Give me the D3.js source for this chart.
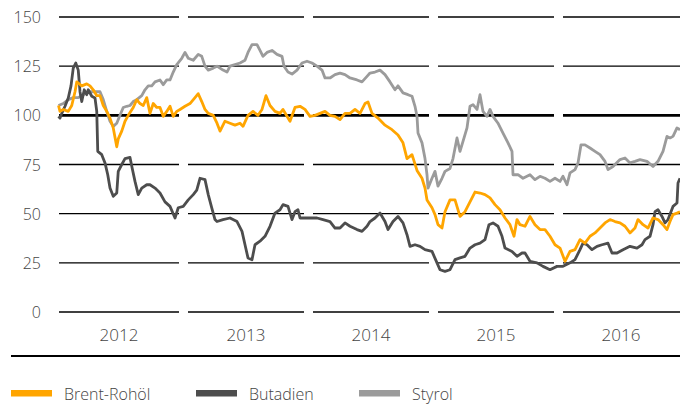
<!DOCTYPE html>
<html>
<head>
<meta charset="utf-8">
<script src="https://cdn.jsdelivr.net/npm/d3@7/dist/d3.min.js"></script>
<style>
  html, body { margin: 0; padding: 0; background: #fff; }
  svg { display: block; font-family: "Open Sans", "Noto Sans", sans-serif; }
</style>
</head>
<body>
<svg id="chart" width="680" height="405"></svg>
<script>
// ---------- data ----------
const years = [2012, 2013, 2014, 2015, 2016];
const yearLabels = ["2012", "2013", "2014", "2015", "2016"];
const yTicks = [0, 25, 50, 75, 100, 125, 150];
const seriesNames = ["Brent-Rohöl", "Butadien", "Styrol"];
const seriesColors = ["#FFA500", "#4d4d4d", "#9b9b9b"];

const brentDates = [2012.000,2012.012,2012.038,2012.078,2012.106,2012.132,2012.146,2012.186,2012.226,2012.252,2012.278,2012.306,2012.332,2012.358,2012.386,2012.412,2012.438,2012.466,2012.478,2012.506,2012.532,2012.558,2012.598,2012.626,2012.652,2012.678,2012.706,2012.732,2012.758,2012.786,2012.812,2012.838,2012.866,2012.892,2012.918,2012.946,2012.972,2013.012,2013.052,2013.092,2013.118,2013.146,2013.172,2013.198,2013.238,2013.268,2013.292,2013.332,2013.372,2013.412,2013.452,2013.476,2013.516,2013.556,2013.596,2013.628,2013.660,2013.692,2013.732,2013.772,2013.796,2013.852,2013.892,2013.932,2013.972,2014.012,2014.052,2014.092,2014.132,2014.172,2014.212,2014.252,2014.292,2014.332,2014.372,2014.412,2014.452,2014.476,2014.508,2014.556,2014.612,2014.668,2014.716,2014.756,2014.788,2014.828,2014.868,2014.908,2014.932,2014.948,2014.988,2015.012,2015.036,2015.068,2015.092,2015.132,2015.172,2015.212,2015.252,2015.292,2015.332,2015.372,2015.412,2015.452,2015.492,2015.532,2015.572,2015.612,2015.644,2015.668,2015.692,2015.732,2015.772,2015.812,2015.852,2015.892,2015.932,2015.972,2016.012,2016.052,2016.092,2016.132,2016.172,2016.212,2016.252,2016.292,2016.332,2016.372,2016.412,2016.452,2016.492,2016.532,2016.572,2016.612,2016.636,2016.676,2016.716,2016.756,2016.796,2016.836,2016.868,2016.892,2016.916,2016.948,2016.972];
const brentValues = [105,102,103,102,105,112,117,115,116,115,113,110,110,105,102,98.6,93.6,84,88,92,97,100,104,108,106,105,109,101,106,104,104,99.5,102,104.6,99.5,102,103,104.6,106,109,111,107,103,101,100,96,92,97,96,95,96,94.4,100,102,100,103,110,105,102,101,103,97,104,104.6,103,99.5,100,101,102,100,99.5,97.8,101,101,103,101,106,106.8,101,98.6,95,92.7,90,86,78,80,72,68,63,57,53,49.5,44.4,42.7,51,57,57,48.6,51,56,61,60.5,59.7,58,54.6,52,47.8,44.4,38.5,47,44.4,43.6,48.6,44.4,41.9,41.9,38.5,34.2,32.5,25.8,30.8,31.7,36.8,35,38.5,40.2,42.7,45.3,47,46,45.3,43.6,40.2,42.7,47,44.4,42.7,47.8,47,44.4,41.9,46,49.5,50.3,51];

const butadienDates = [2012.000,2012.012,2012.026,2012.052,2012.078,2012.100,2012.118,2012.138,2012.158,2012.172,2012.186,2012.206,2012.226,2012.238,2012.266,2012.292,2012.306,2012.314,2012.346,2012.372,2012.394,2012.412,2012.438,2012.466,2012.478,2012.506,2012.532,2012.572,2012.590,2012.612,2012.638,2012.666,2012.706,2012.732,2012.772,2012.812,2012.852,2012.892,2012.932,2012.958,2012.998,2013.038,2013.078,2013.106,2013.132,2013.172,2013.198,2013.226,2013.252,2013.268,2013.316,2013.372,2013.428,2013.468,2013.492,2013.516,2013.548,2013.572,2013.612,2013.652,2013.692,2013.732,2013.772,2013.796,2013.836,2013.868,2013.892,2013.916,2013.932,2014.012,2014.068,2014.116,2014.172,2014.212,2014.252,2014.292,2014.332,2014.388,2014.428,2014.468,2014.492,2014.532,2014.572,2014.612,2014.636,2014.676,2014.716,2014.756,2014.788,2014.812,2014.852,2014.892,2014.932,2014.988,2015.028,2015.052,2015.092,2015.132,2015.172,2015.212,2015.252,2015.292,2015.332,2015.372,2015.412,2015.444,2015.476,2015.516,2015.548,2015.572,2015.628,2015.668,2015.708,2015.732,2015.772,2015.828,2015.876,2015.932,2015.988,2016.036,2016.092,2016.132,2016.172,2016.196,2016.228,2016.268,2016.308,2016.348,2016.396,2016.428,2016.468,2016.516,2016.572,2016.628,2016.668,2016.692,2016.732,2016.756,2016.772,2016.796,2016.828,2016.852,2016.876,2016.916,2016.948,2016.956,2016.972];
const butadienValues = [99.5,98.6,101,104.6,108.8,115,124,126.6,123,112,107,113,110.5,113,109.7,108.8,102,81.7,80,75.8,69.8,63,58.8,60.5,71.5,75,78,78.6,73,66.4,59.7,63,64.7,64.7,63,60.5,56,53.7,47.8,53,53.7,57,59.7,62,68,67.3,59.7,53,47,46,47,47.8,46,41,34.2,27.5,26.6,34.2,36,38.5,43.6,50.3,52,54.6,53.7,47,51,52,47.8,47.8,47.8,47,46,42.7,42.7,45.3,43.6,41.9,41,43.6,46,47.8,50.3,46,41.9,46,48.6,45.3,39.3,33.4,34.2,33.4,31.7,30.8,25,21.5,20.7,21.5,26.6,27.5,28.3,32.5,34.2,35,36.8,44.4,45.3,43.6,38.5,32.5,30.8,28.3,30,30,25.8,25,23.2,21.5,23.2,23.2,25,26.6,31.7,35,34.2,31.7,33.4,34.2,35,30,30,31.7,33.4,32.5,34.2,36.8,38.5,44.4,51,52,48.6,45.3,47,53.7,55.4,65.6,68];

const styrolDates = [2012.000,2012.038,2012.078,2012.118,2012.158,2012.198,2012.238,2012.292,2012.332,2012.358,2012.386,2012.412,2012.438,2012.466,2012.492,2012.518,2012.546,2012.572,2012.598,2012.626,2012.666,2012.692,2012.718,2012.746,2012.772,2012.812,2012.838,2012.866,2012.892,2012.918,2012.946,2012.986,2013.012,2013.038,2013.078,2013.118,2013.146,2013.172,2013.198,2013.238,2013.268,2013.316,2013.348,2013.372,2013.412,2013.452,2013.492,2013.516,2013.548,2013.588,2013.612,2013.636,2013.668,2013.708,2013.748,2013.788,2013.804,2013.836,2013.868,2013.908,2013.948,2013.988,2014.028,2014.068,2014.108,2014.132,2014.172,2014.212,2014.252,2014.292,2014.332,2014.388,2014.428,2014.468,2014.492,2014.532,2014.572,2014.612,2014.652,2014.692,2014.716,2014.756,2014.796,2014.828,2014.852,2014.868,2014.876,2014.908,2014.932,2014.948,2014.956,2014.988,2015.012,2015.036,2015.068,2015.092,2015.132,2015.156,2015.188,2015.212,2015.236,2015.268,2015.292,2015.316,2015.348,2015.372,2015.396,2015.428,2015.452,2015.476,2015.516,2015.556,2015.596,2015.628,2015.636,2015.676,2015.716,2015.772,2015.812,2015.852,2015.892,2015.932,2015.972,2016.012,2016.036,2016.068,2016.092,2016.132,2016.156,2016.180,2016.212,2016.252,2016.292,2016.332,2016.372,2016.396,2016.436,2016.492,2016.532,2016.572,2016.612,2016.652,2016.708,2016.756,2016.796,2016.836,2016.868,2016.892,2016.916,2016.948,2016.972];
const styrolValues = [105,106,108,109,109,110.5,112,112,112,108,102,97,94.4,96,100,104,104.6,105,107,108,110,113,115,115,117,118,115.6,118,118,122,125.8,129,132,129,128,131,130,125,123,124,125,123,122,125,125.8,126.6,128,132,136,136,133,130,132,133,131,130,125,122,121,123,126.6,127.5,126.6,125,123,119,119,120.7,121.5,120.7,119,118,117,119.8,121.5,122,123,120.7,117,113,115,111.4,110.5,109.7,104.6,99.5,91,86,78,69.8,63,68,71.5,64,68,71.5,73,78,88.5,81.7,86.8,93.6,104.6,105.4,103,110.5,102,99.5,103,99.5,96,91,86,81.7,69.8,69.8,68,69.8,67.3,69,68,66.4,68,66.4,69,64.7,70.7,72.4,75.8,85,85,83.4,81.7,80,76.6,72.4,74,77.5,78.3,75.8,76.6,77.5,76.6,74,76.6,81.7,89.3,88.5,89.3,93.6,92.7];

// ---------- layout ----------
const W = 680, H = 405;
const svg = d3.select("#chart");
const x = d3.scaleLinear().domain([2012, 2017]).range([58.5, 683.5]);
const y = d3.scaleLinear().domain([0, 150]).range([312, 17]);
const gap = 4.5;
const textColor = "#444";

// gridlines, split by year bands
const grid = svg.append("g");
yTicks.forEach(t => {
  years.forEach((yr, i) => {
    const x0 = i === 0 ? x(yr) + 0.5 : x(yr) + gap;
    const x1 = i === years.length - 1 ? W : x(yr + 1) - gap;
    grid.append("line")
      .attr("x1", x0).attr("x2", x1)
      .attr("y1", y(t)).attr("y2", y(t))
      .attr("stroke", "#000")
      .attr("stroke-width", t === 100 ? 2.6 : 1.3);
  });
});

// y labels
svg.append("g").selectAll("text").data(yTicks).join("text")
  .attr("x", 41).attr("y", d => y(d))
  .attr("text-anchor", "end").attr("dominant-baseline", "central")
  .attr("font-size", 16).attr("font-weight", 300).attr("fill", textColor)
  .text(d => d);

// year labels
svg.append("g").selectAll("text").data(years).join("text")
  .attr("x", (d, i) => (i === 0 ? x(d) + 0.5 : x(d) + gap) / 2 + (x(d + 1) - gap) / 2)
  .attr("y", 334)
  .attr("text-anchor", "middle").attr("dominant-baseline", "central")
  .attr("font-size", 17).attr("font-weight", 300).attr("fill", textColor)
  .text((d, i) => yearLabels[i]);

// bottom rule
svg.append("line").attr("x1", 11).attr("x2", W).attr("y1", 356).attr("y2", 356)
  .attr("stroke", "#000").attr("stroke-width", 2.2);

// lines
const line = d3.line().x(d => x(d[0])).y(d => y(d[1]));
const series = [
  { name: seriesNames[2], color: seriesColors[2], dates: styrolDates, values: styrolValues },
  { name: seriesNames[1], color: seriesColors[1], dates: butadienDates, values: butadienValues },
  { name: seriesNames[0], color: seriesColors[0], dates: brentDates, values: brentValues }
];
series.forEach(s => {
  svg.append("path")
    .datum(s.dates.map((d, i) => [d, s.values[i]]))
    .attr("fill", "none")
    .attr("stroke", s.color)
    .attr("stroke-width", 2.8)
    .attr("stroke-linejoin", "round")
    .attr("d", line);
});

// legend
const legendX = [11, 196, 359];
const leg = svg.append("g");
seriesNames.forEach((n, i) => {
  leg.append("rect").attr("x", legendX[i]).attr("y", 390).attr("width", 41).attr("height", 6.5)
    .attr("fill", seriesColors[i]);
  leg.append("text").attr("x", legendX[i] + 53).attr("y", 394)
    .attr("dominant-baseline", "central")
    .attr("font-size", 16).attr("font-weight", 300).attr("fill", textColor)
    .text(n);
});
</script>
</body>
</html>
